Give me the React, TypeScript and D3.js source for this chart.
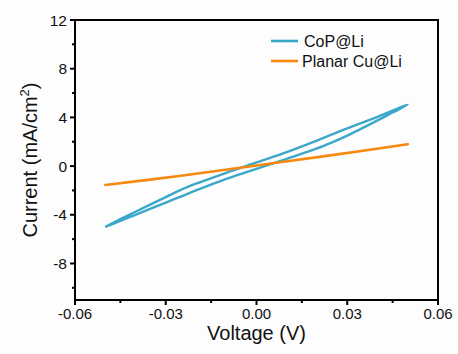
import React from "react";
import * as d3 from "d3";

// CoP@Li loop: forward (upper) branch then reverse (lower) branch
const copForwardV = [-0.05, -0.045, -0.04, -0.03, -0.025, -0.02, -0.01, 0, 0.01, 0.02, 0.025, 0.03, 0.04, 0.045, 0.05];
const copForwardI = [-5.0, -4.35, -3.75, -2.55, -1.95, -1.45, -0.55, 0.3, 1.15, 2.1, 2.6, 3.1, 4.05, 4.55, 5.05];
const copReverseV = [0.05, 0.045, 0.04, 0.03, 0.025, 0.02, 0.01, 0, -0.01, -0.02, -0.025, -0.03, -0.04, -0.045, -0.05];
const copReverseI = [5.05, 4.4, 3.75, 2.5, 1.95, 1.45, 0.6, -0.22, -1.05, -2.0, -2.5, -3.0, -4.0, -4.5, -5.0];

const planarV = [-0.05, -0.025, 0, 0.025, 0.05];
const planarI = [-1.55, -0.8, 0.05, 0.9, 1.8];

const xTicks = [-0.06, -0.03, 0, 0.03, 0.06];
const xTickLabels = ["-0.06", "-0.03", "0.00", "0.03", "0.06"];
const xMinor = [-0.045, -0.015, 0.015, 0.045];
const yTicks = [-8, -4, 0, 4, 8, 12];
const yTickLabels = ["-8", "-4", "0", "4", "8", "12"];
const yMinor = [-10, -6, -2, 2, 6, 10];

const seriesNames = ["CoP@Li", "Planar Cu@Li"];
const colors = ["#3ba7c9", "#f7890f"];

export default function App() {
  const W = 458, H = 354;
  const left = 75, right = 438, top = 20, bottom = 300;
  const x = d3.scaleLinear().domain([-0.06, 0.06]).range([left, right]);
  const y = d3.scaleLinear().domain([-11, 12]).range([bottom, top]);
  const font = "Arial, 'Liberation Sans', sans-serif";

  const copPts: [number, number][] = [
    ...copForwardV.map((v, i) => [v, copForwardI[i]] as [number, number]),
    ...copReverseV.slice(1).map((v, i) => [v, copReverseI[i + 1]] as [number, number]),
  ];
  const planarPts: [number, number][] = planarV.map((v, i) => [v, planarI[i]]);

  const line = d3
    .line<[number, number]>()
    .x((d) => x(d[0]))
    .y((d) => y(d[1]))
    .curve(d3.curveCatmullRom.alpha(0.5));

  return (
    <svg
      width={W}
      height={H}
      style={{ position: "absolute", left: 0, top: 0, background: "#fdfdfd" }}
      fontFamily={font}
    >
      {/* data */}
      <path d={line(copPts) || ""} fill="none" stroke={colors[0]} strokeWidth={2.4} strokeLinejoin="round" />
      <path d={line(planarPts) || ""} fill="none" stroke={colors[1]} strokeWidth={2.6} strokeLinecap="round" />

      {/* frame */}
      <rect x={left} y={top} width={right - left} height={bottom - top} fill="none" stroke="#000" strokeWidth={2} />

      {/* x ticks */}
      {xTicks.map((t, i) => (
        <g key={"xt" + t}>
          <line x1={x(t)} x2={x(t)} y1={bottom} y2={bottom + 5} stroke="#000" strokeWidth={2} />
          <text x={x(t)} y={319} textAnchor="middle" fontSize={15} fill="#111">
            {xTickLabels[i]}
          </text>
        </g>
      ))}
      {xMinor.map((t) => (
        <line key={"xm" + t} x1={x(t)} x2={x(t)} y1={bottom} y2={bottom + 3} stroke="#000" strokeWidth={2} />
      ))}

      {/* y ticks */}
      {yTicks.map((t, i) => (
        <g key={"yt" + t}>
          <line x1={left - 5} x2={left} y1={y(t)} y2={y(t)} stroke="#000" strokeWidth={2} />
          <text x={67} y={y(t)} textAnchor="end" dominantBaseline="central" fontSize={15.5} fill="#111">
            {yTickLabels[i]}
          </text>
        </g>
      ))}
      {yMinor.map((t) => (
        <line key={"ym" + t} x1={left - 3} x2={left} y1={y(t)} y2={y(t)} stroke="#000" strokeWidth={2} />
      ))}

      {/* axis titles */}
      <text x={(left + right) / 2} y={340} textAnchor="middle" fontSize={20} fill="#111">
        Voltage (V)
      </text>
      <text
        transform={`translate(37,${(top + bottom) / 2}) rotate(-90)`}
        textAnchor="middle"
        fontSize={20}
        fill="#111"
      >
        Current (mA/cm<tspan dy={-8} fontSize={13}>2</tspan><tspan dy={8}>)</tspan>
      </text>

      {/* legend */}
      {seriesNames.map((n, i) => (
        <g key={n}>
          <line x1={271} x2={298} y1={41 + i * 20} y2={41 + i * 20} stroke={colors[i]} strokeWidth={2.6} />
          <text x={i === 0 ? 304 : 302} y={41 + i * 20} dominantBaseline="central" fontSize={16} fill="#111">
            {n}
          </text>
        </g>
      ))}
    </svg>
  );
}
